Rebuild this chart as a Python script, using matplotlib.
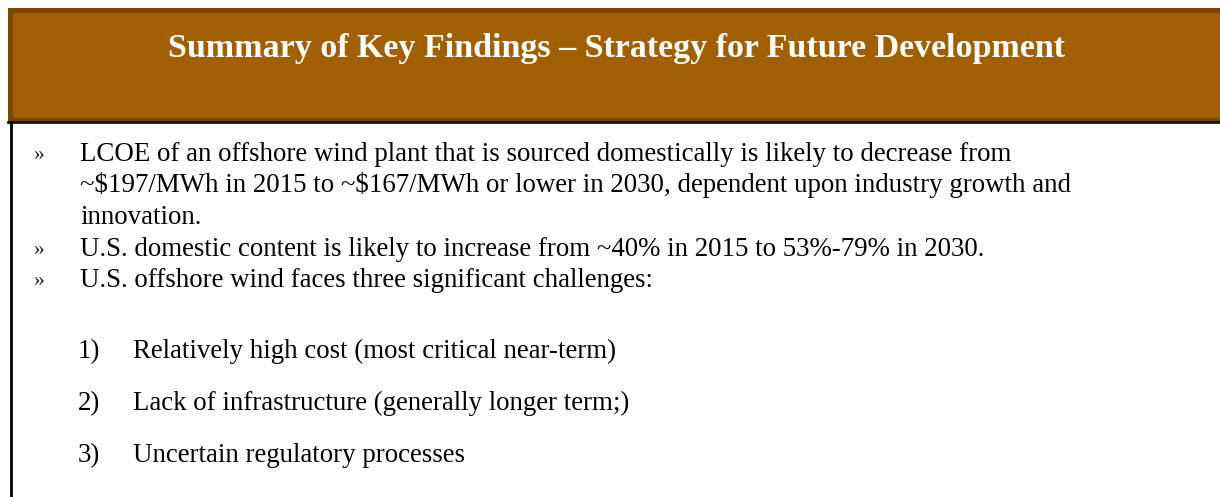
import matplotlib
matplotlib.use("Agg")
import matplotlib.pyplot as plt
from matplotlib.patches import Rectangle

# slide text
title = "Summary of Key Findings \u2013 Strategy for Future Development"
bullet_lines = [
    "LCOE of an offshore wind plant that is sourced domestically is likely to decrease from",
    "~$197/MWh in 2015 to ~$167/MWh or lower in 2030, dependent upon industry growth and",
    "innovation.",
    "U.S. domestic content is likely to increase from ~40% in 2015 to 53%-79% in 2030.",
    "U.S. offshore wind faces three significant challenges:",
]
bullet_marks = ["\u00bb", "", "", "\u00bb", "\u00bb"]
numbers = ["1)", "2)", "3)"]
challenges = [
    "Relatively high cost (most critical near-term)",
    "Lack of infrastructure (generally longer term;)",
    "Uncertain regulatory processes",
]

W, H = 1220, 497
header_fill = "#A05F00"
header_edge = "#7A4800"
serif = ["Liberation Serif", "DejaVu Serif"]

fig = plt.figure(figsize=(W / 100, H / 100), dpi=100)
ax = fig.add_axes([0, 0, 1, 1])
ax.set_xlim(0, W)
ax.set_ylim(H, 0)
ax.axis("off")

# header band with darker top/left edge
ax.add_patch(Rectangle((8, 8), W, 114, facecolor=header_edge, edgecolor="none"))
ax.add_patch(Rectangle((13, 13), W, 105, facecolor=header_fill, edgecolor="none"))
ax.plot([8, W], [121.5, 121.5], color="#1a1000", lw=2)
# left rule of the body box
ax.plot([10.5, 10.5], [122, H], color="black", lw=2)

renderer = fig.canvas.get_renderer()

def fit(text, target, size, **kw):
    # pick the font size that makes text span target pixels
    t = ax.text(0, 0, text, fontsize=size, parse_math=False, **kw)
    w = t.get_window_extent(renderer).width
    t.remove()
    return size * target / w

title_size = fit(title, 898, 20, family=serif, weight="bold")
body_size = fit(bullet_lines[0], 932, 16, family=serif)

ax.text(616, 57, title, fontsize=title_size, family=serif, weight="bold",
        color="white", ha="center", va="baseline", parse_math=False)

y = 161
for mark, line in zip(bullet_marks, bullet_lines):
    if mark:
        ax.text(33, y - 1, mark, fontsize=body_size * 0.8, family=serif,
                color="#222222", va="baseline")
    ax.text(80, y, line, fontsize=body_size, family=serif, color="black",
            va="baseline", parse_math=False)
    y += 31.5

y = 358
for num, line in zip(numbers, challenges):
    ax.text(78, y, num, fontsize=body_size, family=serif, color="black", va="baseline")
    ax.text(133, y, line, fontsize=body_size, family=serif, color="black", va="baseline")
    y += 52

fig.savefig("out.png", dpi=100)
